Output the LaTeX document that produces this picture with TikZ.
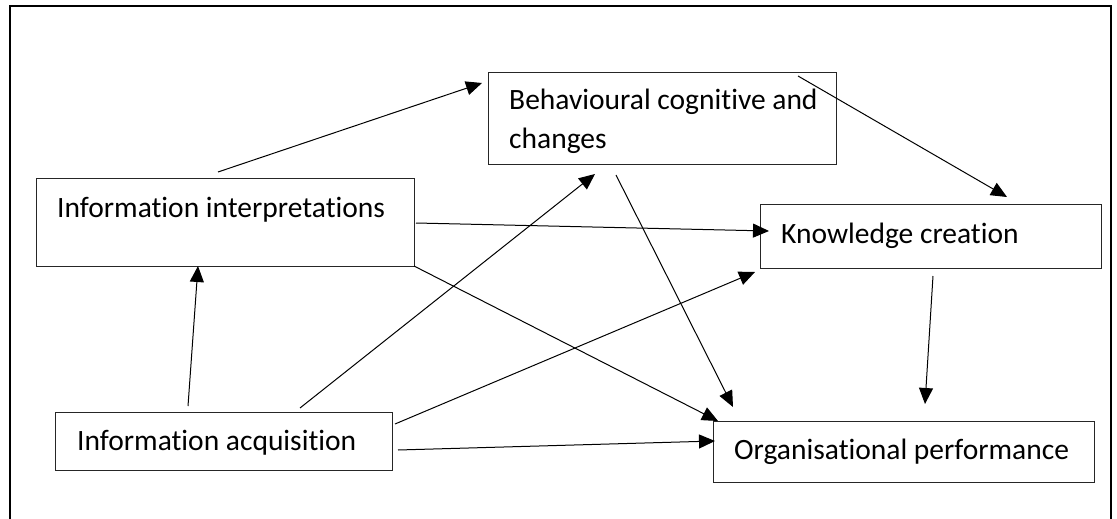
\documentclass[tikz,border=0pt]{standalone}
\usepackage{fontspec}
\setmainfont{Carlito}[Ligatures=NoCommon]
\usetikzlibrary{arrows.meta,calc}

\tikzset{
  box/.style={draw=black!85, line width=1pt, rectangle, anchor=north west, inner sep=0pt},
  lbl/.style={anchor=base west, inner sep=0pt, font=\fontsize{29.5}{38}\selectfont},
  link/.style={draw=black, line width=1pt, -{Triangle[length=16pt,width=14pt]}},
  frame/.style={draw=black, line width=1.8pt}
}

\begin{document}
\begin{tikzpicture}[x=1pt,y=-1pt]
  \useasboundingbox (0,0) rectangle (1117,519);

  % outer frame (open at the bottom edge of the page)
  \draw[frame] (10,519) -- (10,6) -- (1111,6) -- (1111,519);

  % boxes
  \node[box, minimum width=378pt, minimum height=88pt] (interp) at (36,178) {};
  \node[box, minimum width=348pt, minimum height=92pt] (behav)  at (488,72) {};
  \node[box, minimum width=341pt, minimum height=64pt] (know)   at (760,204) {};
  \node[box, minimum width=337pt, minimum height=58pt] (acq)    at (55,412) {};
  \node[box, minimum width=381pt, minimum height=61pt] (org)    at (713,421) {};

  % box texts
  \node[lbl] (interp-t) at ($(interp.north west)+(21,39)$) {Information interpretations};
  \node[lbl] (behav-t1) at ($(behav.north west)+(21,38)$) {Behavioural cognitive and};
  \node[lbl] (behav-t2) at ($(behav.north west)+(21,76)$) {changes};
  \node[lbl] (know-t)   at ($(know.north west)+(21,39)$) {Knowledge creation};
  \node[lbl] (acq-t)    at ($(acq.north west)+(22,38)$) {Information acquisition};
  \node[lbl] (org-t)    at ($(org.north west)+(21,38)$) {Organisational performance};

  % free ends of the connectors
  \coordinate (i2b-s) at (218,172);  \coordinate (i2b-e) at (482,83);
  \coordinate (i2k-s) at (416,223);  \coordinate (i2k-e) at (769,231);
  \coordinate (i2o-s) at (414,266);  \coordinate (i2o-e) at (718,421);
  \coordinate (b2k-s) at (798,76);   \coordinate (b2k-e) at (1007,197);
  \coordinate (b2o-s) at (616,175);  \coordinate (b2o-e) at (733,407);
  \coordinate (k2o-s) at (933,276);  \coordinate (k2o-e) at (925,404);
  \coordinate (a2i-s) at (188,406);  \coordinate (a2i-e) at (198,266);
  \coordinate (a2b-s) at (300,408);  \coordinate (a2b-e) at (595,174);
  \coordinate (a2k-s) at (395,424);  \coordinate (a2k-e) at (755,272);
  \coordinate (a2o-s) at (398,450);  \coordinate (a2o-e) at (715,441);

  % connectors
  \draw[link] (i2b-s) -- (i2b-e);
  \draw[link] (i2k-s) -- (i2k-e);
  \draw[link] (i2o-s) -- (i2o-e);
  \draw[link] (b2k-s) -- (b2k-e);
  \draw[link] (b2o-s) -- (b2o-e);
  \draw[link] (k2o-s) -- (k2o-e);
  \draw[link] (a2i-s) -- (a2i-e);
  \draw[link] (a2b-s) -- (a2b-e);
  \draw[link] (a2k-s) -- (a2k-e);
  \draw[link] (a2o-s) -- (a2o-e);
\end{tikzpicture}
\end{document}
